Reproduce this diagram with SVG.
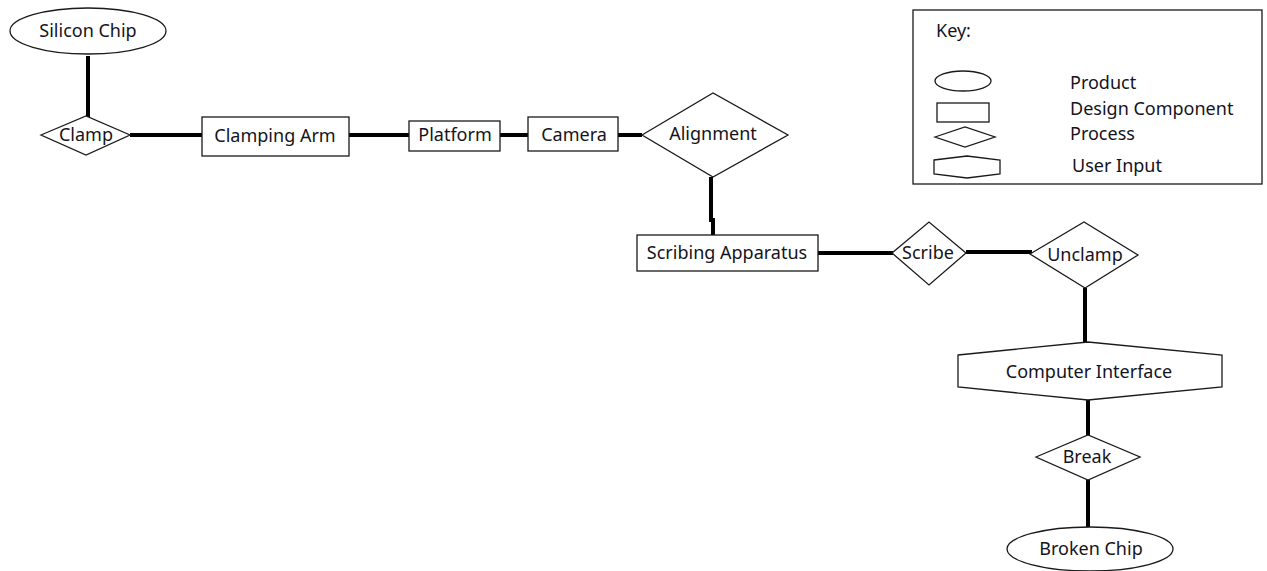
<svg xmlns="http://www.w3.org/2000/svg" width="1267" height="571" viewBox="0 0 1267 571">
  <style>
    .shape { fill: #ffffff; stroke: #1a1a1a; stroke-width: 1.3; }
    .link { stroke: #000000; stroke-width: 4; fill: none; }
    .label { font-family: "Noto Sans", "Open Sans", sans-serif; font-size: 18px; fill: #141420; text-anchor: middle; }
    .keytext { font-family: "Noto Sans", "Open Sans", sans-serif; font-size: 18px; fill: #141420; }
  </style>
  <rect width="1267" height="571" fill="#ffffff"/>

  <!-- connectors -->
  <g id="connectors">
    <line class="link" x1="88" y1="56" x2="88" y2="117"/>
    <line class="link" x1="130" y1="135" x2="202" y2="135"/>
    <line class="link" x1="349" y1="135" x2="409" y2="135"/>
    <line class="link" x1="500" y1="135" x2="528" y2="135" stroke-width="5"/>
    <line class="link" x1="618" y1="135" x2="642" y2="135"/>
    <polyline class="link" points="711,177 711,220 713,220 713,235"/>
    <line class="link" x1="818" y1="253" x2="893" y2="253"/>
    <line class="link" x1="966" y1="252" x2="1032" y2="252"/>
    <line class="link" x1="1085" y1="288" x2="1085" y2="345"/>
    <line class="link" x1="1088" y1="400" x2="1088" y2="436"/>
    <line class="link" x1="1088" y1="480" x2="1088" y2="528"/>
  </g>

  <!-- nodes -->
  <g id="silicon-chip">
    <ellipse class="shape" cx="88" cy="31" rx="78" ry="23"/>
    <text class="label" x="88" y="37">Silicon Chip</text>
  </g>
  <g id="clamp">
    <polygon class="shape" points="41,135 86,116 130,135 86,155"/>
    <text class="label" x="86" y="141">Clamp</text>
  </g>
  <g id="clamping-arm">
    <rect class="shape" x="202" y="117" width="147" height="39"/>
    <text class="label" x="275" y="142">Clamping Arm</text>
  </g>
  <g id="platform">
    <rect class="shape" x="409" y="121" width="91" height="30"/>
    <text class="label" x="455" y="141">Platform</text>
  </g>
  <g id="camera">
    <rect class="shape" x="528" y="117" width="90" height="34"/>
    <text class="label" x="574" y="141">Camera</text>
  </g>
  <g id="alignment">
    <polygon class="shape" points="642,135 713,93 788,135 713,177"/>
    <text class="label" x="713" y="140">Alignment</text>
  </g>
  <g id="scribing-apparatus">
    <rect class="shape" x="637" y="235" width="181" height="36"/>
    <text class="label" x="727" y="259">Scribing Apparatus</text>
  </g>
  <g id="scribe">
    <polygon class="shape" points="892,253 929,222 966,253 929,285"/>
    <text class="label" x="928" y="259">Scribe</text>
  </g>
  <g id="unclamp">
    <polygon class="shape" points="1030,254 1084,222 1138,255 1085,288" stroke-width="2"/>
    <text class="label" x="1085" y="261">Unclamp</text>
  </g>
  <g id="computer-interface">
    <polygon class="shape" points="958,355 1088,342 1222,355 1222,387 1088,400 958,387"/>
    <text class="label" x="1089" y="378">Computer Interface</text>
  </g>
  <g id="break">
    <polygon class="shape" points="1036,457 1088,435 1140,457 1088,480"/>
    <text class="label" x="1087" y="463">Break</text>
  </g>
  <g id="broken-chip">
    <ellipse class="shape" cx="1090" cy="549" rx="83" ry="22"/>
    <text class="label" x="1091" y="555">Broken Chip</text>
  </g>

  <!-- legend -->
  <g id="key">
    <rect class="shape" x="913" y="10" width="349" height="174"/>
    <text class="keytext" x="936" y="37">Key:</text>
    <ellipse class="shape" cx="963" cy="81" rx="28" ry="10"/>
    <rect class="shape" x="937" y="103" width="52" height="19"/>
    <polygon class="shape" points="935,137 965,127 995,137 965,147"/>
    <polygon class="shape" points="934,160 967,156 1000,160 1000,174 967,178 934,174"/>
    <text class="keytext" x="1070" y="89">Product</text>
    <text class="keytext" x="1070" y="115">Design Component</text>
    <text class="keytext" x="1070" y="140">Process</text>
    <text class="keytext" x="1072" y="172">User Input</text>
  </g>
</svg>
